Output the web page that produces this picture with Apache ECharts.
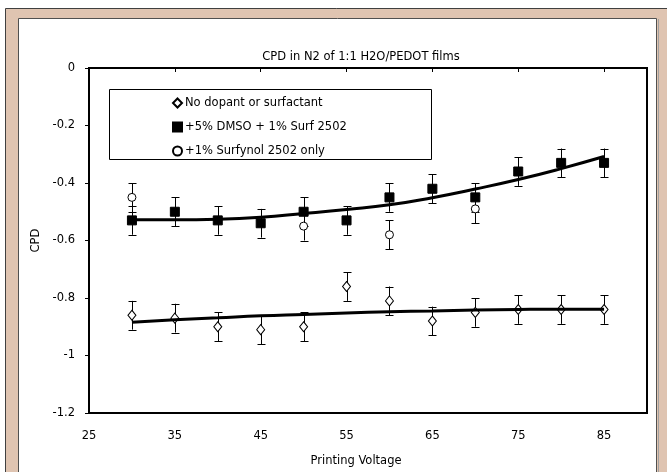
<!DOCTYPE html>
<html><head><meta charset="utf-8">
<script src="https://cdn.jsdelivr.net/npm/echarts@6/dist/echarts.min.js"></script>
<style>html,body{margin:0;padding:0;background:#fff}#c{width:667px;height:472px}</style>
</head><body><div id="c"></div>
<script>
const voltages = [30,35,40,45,50,55,60,65,70,75,80,85];
const noDopant = [-0.86,-0.87,-0.90,-0.91,-0.90,-0.76,-0.81,-0.88,-0.85,-0.84,-0.84,-0.84];
const noDopantErr = [0.05,0.05,0.05,0.05,0.05,0.05,0.05,0.05,0.05,0.05,0.05,0.05];
const dmso = [-0.53,-0.50,-0.53,-0.54,-0.50,-0.53,-0.45,-0.42,-0.45,-0.36,-0.33,-0.33];
const dmsoErr = [0.05,0.05,0.05,0.05,0.05,0.05,0.05,0.05,0.05,0.05,0.05,0.05];
const surfVoltages = [30,50,60,70];
const surfOnly = [-0.45,-0.55,-0.58,-0.49];
const surfOnlyErr = [0.05,0.05,0.05,0.05];
// trend lines
const noDopantTrend = [-0.884,-0.876,-0.869,-0.862,-0.857,-0.852,-0.848,-0.845,-0.842,-0.840,-0.839,-0.839];
const dmsoTrend = [-0.528,-0.528,-0.526,-0.519,-0.506,-0.492,-0.476,-0.451,-0.421,-0.388,-0.350,-0.308];
const xTickLabels = [25,35,45,55,65,75,85];
const yTickLabels = [0,-0.2,-0.4,-0.6,-0.8,-1,-1.2];
const names = ['No dopant or surfactant','+5% DMSO + 1% Surf 2502','+1% Surfynol 2502 only'];

const FONT = "'DejaVu Sans', 'Liberation Sans', Arial, sans-serif";
const FS = 11.5;
const zip = (xs, ys) => xs.map((x,i)=>[x, ys[i]]);
const zip3 = (xs, ys, es) => xs.map((x,i)=>[x, ys[i], es[i]]);

function errRender(params, api){
  const x = api.value(0), y = api.value(1), e = api.value(2);
  const t = api.coord([x, y + e]), b = api.coord([x, y - e]);
  const cx = Math.round(t[0]) + 0.5, w = 4;
  const st = {stroke:'#000', lineWidth:1};
  return {type:'group', children:[
    {type:'line', shape:{x1:cx,y1:t[1],x2:cx,y2:b[1]}, style:st},
    {type:'line', shape:{x1:cx-w,y1:Math.round(t[1])+0.5,x2:cx+w,y2:Math.round(t[1])+0.5}, style:st},
    {type:'line', shape:{x1:cx-w,y1:Math.round(b[1])+0.5,x2:cx+w,y2:Math.round(b[1])+0.5}, style:st}
  ]};
}
function errSeries(data){
  return {type:'custom', renderItem: errRender, data: data, z: 3, silent:true,
    encode:{x:0, y:1}};
}

const chart = echarts.init(document.getElementById('c'), null, {renderer:'canvas'});
chart.setOption({
  animation:false,
  textStyle:{fontFamily:FONT},
  graphic:[
    {type:'rect', z:-10, shape:{x:5.5,y:8.5,width:700,height:500}, style:{fill:'#dfc4b1', stroke:'#404040', lineWidth:1}},
    {type:'rect', z:-9, shape:{x:18.5,y:18.5,width:638,height:500}, style:{fill:'#fff', stroke:'#505050', lineWidth:1}},
    {type:'line', z:-9, shape:{x1:658.5,y1:19,x2:658.5,y2:480}, style:{stroke:'#a0a0a0', lineWidth:1}},
    {type:'rect', z:5, shape:{x:109.5,y:89.5,width:322,height:70}, style:{fill:'#fff', stroke:'#000', lineWidth:1}}
  ],
  title:{text:'CPD in N2 of 1:1 H2O/PEDOT films', left:356, textAlign:'center', top:46,
    textStyle:{fontFamily:FONT, fontSize:FS, fontWeight:'normal', color:'#000'}},
  legend:{
    data: names, orient:'vertical', left:167, top:91, z:6,
    itemWidth:9, itemHeight:9, itemGap:10,
    textStyle:{fontFamily:FONT, fontSize:FS, color:'#000', lineHeight:14, padding:[0,0,0,-2]},
    selectedMode:false
  },
  grid:{left:89, top:68, right:20, bottom:56, show:true, borderColor:'#000', borderWidth:2, backgroundColor:'transparent'},
  xAxis:[{
    type:'value', min:25, max:90, interval:5, position:'bottom',
    name:'Printing Voltage', nameLocation:'middle', nameGap:42,
    nameTextStyle:{fontFamily:FONT, fontSize:FS, color:'#000', padding:[0,24,0,0]},
    axisLine:{show:false}, axisTick:{show:false}, splitLine:{show:false},
    axisLabel:{customValues: xTickLabels, margin:17, fontFamily:FONT, fontSize:FS, color:'#000'}
  },{
    type:'value', min:25, max:90, interval:5, position:'top',
    axisLine:{show:false}, splitLine:{show:false}, axisLabel:{show:false},
    axisTick:{show:true, inside:true, length:4, customValues: xTickLabels.slice(1), lineStyle:{color:'#000', width:1}}
  }],
  yAxis:{
    type:'value', min:-1.2, max:0, interval:0.2,
    name:'CPD', nameLocation:'middle', nameGap:47,
    nameTextStyle:{fontFamily:FONT, fontSize:FS, color:'#000'},
    axisLine:{show:false}, splitLine:{show:false},
    axisTick:{show:true, inside:false, length:4, lineStyle:{color:'#000', width:1}},
    axisLabel:{margin:14, fontFamily:FONT, fontSize:FS, color:'#000',
      formatter: v => String(Math.round(v*10)/10)}
  },
  series:[
    errSeries(zip3(voltages, noDopant, noDopantErr)),
    errSeries(zip3(voltages, dmso, dmsoErr)),
    errSeries(zip3(surfVoltages, surfOnly, surfOnlyErr)),
    {name:names[0], type:'scatter', symbol:'diamond', symbolSize:[8,10], z:4,
      itemStyle:{color:'#fff', borderColor:'#000', borderWidth:1, opacity:1},
      data: zip(voltages, noDopant)},
    {name:names[1], type:'scatter', symbol:'rect', symbolSize:9, z:4,
      itemStyle:{color:'#000', borderColor:'#000', borderWidth:1, opacity:1},
      data: zip(voltages, dmso)},
    {name:names[2], type:'scatter', symbol:'circle', symbolSize:8, z:4,
      itemStyle:{color:'#fff', borderColor:'#000', borderWidth:1, opacity:1},
      data: zip(surfVoltages, surfOnly)},
    {type:'line', smooth:true, showSymbol:false, z:5, silent:true,
      lineStyle:{color:'#000', width:3}, data: zip(voltages, noDopantTrend)},
    {type:'line', smooth:true, showSymbol:false, z:5, silent:true,
      lineStyle:{color:'#000', width:3}, data: zip(voltages, dmsoTrend)}
  ]
});
</script></body></html>
